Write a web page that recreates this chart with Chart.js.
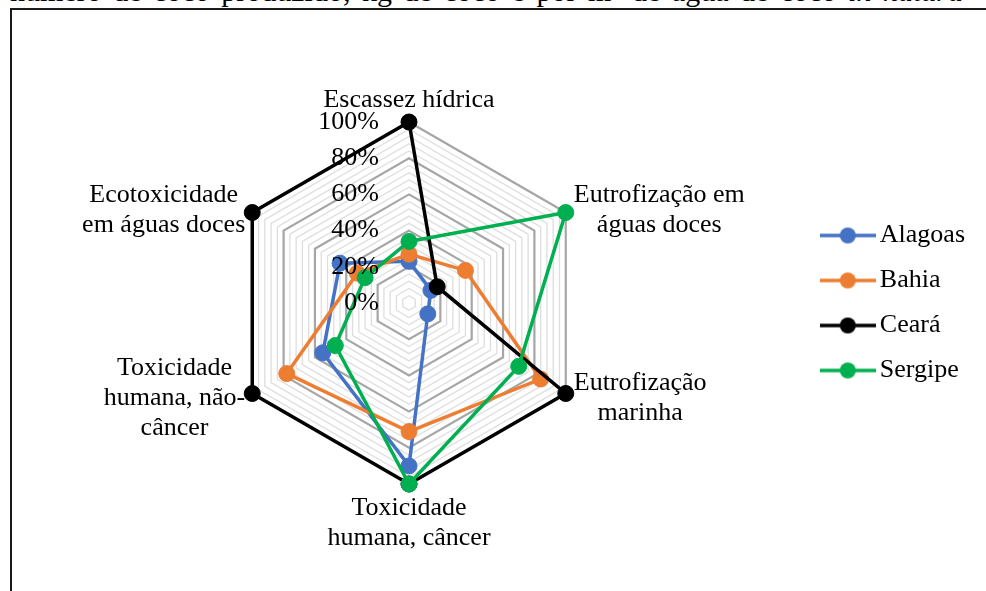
<!DOCTYPE html>
<html>
<head>
<meta charset="utf-8">
<script src="https://cdn.jsdelivr.net/npm/chart.js@4.4.1/dist/chart.umd.min.js"></script>
<style>
html,body{margin:0;padding:0;background:#fff;overflow:hidden;}
body{width:986px;height:591px;position:relative;font-family:"Liberation Serif","Times New Roman",serif;}
#caption{position:absolute;left:10px;top:-24px;font-size:30px;line-height:30px;white-space:nowrap;color:#000;}
#frame{position:absolute;left:10px;top:8px;width:1000px;height:620px;border-left:2px solid #1a1a1a;border-top:2px solid #1a1a1a;}
#wrap{position:absolute;left:0;top:0;width:986px;height:591px;}
</style>
</head>
<body>
<div id="caption">número de coco produzido, kg de coco e por m³ de água de coco <i>in natura</i></div>
<div id="frame"></div>
<div id="wrap"><canvas id="radar"></canvas></div>
<script>
// categorias (sentido horário a partir do topo)
const categories = [
  'Escassez hídrica',
  ['Eutrofização em', 'águas doces'],
  ['Eutrofização', 'marinha'],
  ['Toxicidade', 'humana, câncer'],
  ['Toxicidade', 'humana, não-', 'câncer'],
  ['Ecotoxicidade', 'em águas doces']
];
const alagoas = [23, 14, 12, 90, 55, 44];
const bahia   = [27, 36, 84, 71, 78, 33];
const ceara   = [100, 18, 100, 100, 100, 100];
const sergipe = [34, 100, 70, 100, 47, 28];
const tickValues = [0, 20, 40, 60, 80, 100];
const tickLabels = ['0%', '20%', '40%', '60%', '80%', '100%'];

const FONT = '"Liberation Serif", "Times New Roman", serif';

// legenda do texto de cima ocupa a largura da linha
(function(){
  const cap = document.getElementById('caption');
  const gaps = cap.textContent.split(' ').length - 1;
  const w = cap.getBoundingClientRect().width;
  cap.style.wordSpacing = ((953 - w) / gaps) + 'px';
})();

function serie(label, data, color, order){
  return {
    label, data, order,
    borderColor: color, backgroundColor: color,
    pointBackgroundColor: color, pointBorderColor: color,
    borderWidth: 3.5, pointRadius: 8, pointBorderWidth: 1,
    fill: false
  };
}

// amostra da legenda: linha + marcador
function swatch(color){
  const c = document.createElement('canvas');
  c.width = 56; c.height = 18;
  const g = c.getContext('2d');
  g.strokeStyle = color; g.lineWidth = 3.5;
  g.beginPath(); g.moveTo(0, 9); g.lineTo(56, 9); g.stroke();
  g.fillStyle = color;
  g.beginPath(); g.arc(28, 9, 8, 0, Math.PI * 2); g.fill();
  return c;
}

const textPlugin = {
  id: 'textos',
  afterDatasetsDraw(chart){
    const s = chart.scales.r, ctx = chart.ctx;
    ctx.save();
    ctx.font = '26px ' + FONT;
    ctx.fillStyle = '#000';
    ctx.textBaseline = 'middle';
    ctx.textAlign = 'center';
    const lh = 30;
    categories.forEach((cat, i) => {
      const lines = [].concat(cat);
      const p = s.getPointPosition(i, s.drawingArea);
      const w = Math.max(...lines.map(t => ctx.measureText(t).width));
      const h = lines.length * lh;
      let cx = p.x, cy = p.y;
      if (Math.abs(p.x - s.xCenter) < 1) {
        cy = p.y < s.yCenter ? p.y - 7 - h / 2 : p.y + 9 + h / 2;
      } else {
        cx = p.x > s.xCenter ? p.x + 8 + w / 2 : p.x - 7 - w / 2;
        cy = p.y < s.yCenter ? p.y - 2 : p.y + 5;
      }
      lines.forEach((t, k) => ctx.fillText(t, cx, cy - h / 2 + lh / 2 + k * lh));
    });
    ctx.textAlign = 'right';
    tickValues.forEach((v, k) => {
      ctx.fillText(tickLabels[k], s.xCenter - 30, s.yCenter - s.getDistanceFromCenterForValue(v));
    });
    ctx.restore();
  }
};

new Chart(document.getElementById('radar'), {
  type: 'radar',
  data: {
    labels: categories,
    datasets: [
      serie('Alagoas', alagoas, '#4472C4', 3),
      serie('Bahia', bahia, '#ED7D31', 2),
      serie('Ceará', ceara, '#000000', 1),
      serie('Sergipe', sergipe, '#00B050', 0)
    ]
  },
  options: {
    responsive: true,
    maintainAspectRatio: false,
    animation: false,
    layout: { padding: { left: 10, right: 11, top: 122, bottom: 107 } },
    scales: {
      r: {
        min: 0, max: 100,
        ticks: { stepSize: 4, display: false },
        pointLabels: { display: false },
        angleLines: { display: false },
        grid: {
          color: c => Math.round(c.tick.value) % 20 === 0 ? '#a6a6a6' : '#dedede',
          lineWidth: c => Math.round(c.tick.value) % 20 === 0 ? 2.2 : 1.3
        }
      }
    },
    plugins: {
      tooltip: { enabled: false },
      legend: {
        position: 'right',
        align: 'center',
        labels: {
          usePointStyle: true,
          pointStyleWidth: 38,
          padding: 19,
          color: '#000',
          font: { family: FONT, size: 26 },
          generateLabels(chart){
            return chart.data.datasets.map((d, i) => ({
              text: d.label,
              fillStyle: d.borderColor,
              strokeStyle: d.borderColor,
              fontColor: '#000',
              lineWidth: 0,
              pointStyle: swatch(d.borderColor),
              hidden: false,
              datasetIndex: i
            }));
          }
        }
      }
    }
  },
  plugins: [textPlugin]
});
</script>
</body>
</html>
